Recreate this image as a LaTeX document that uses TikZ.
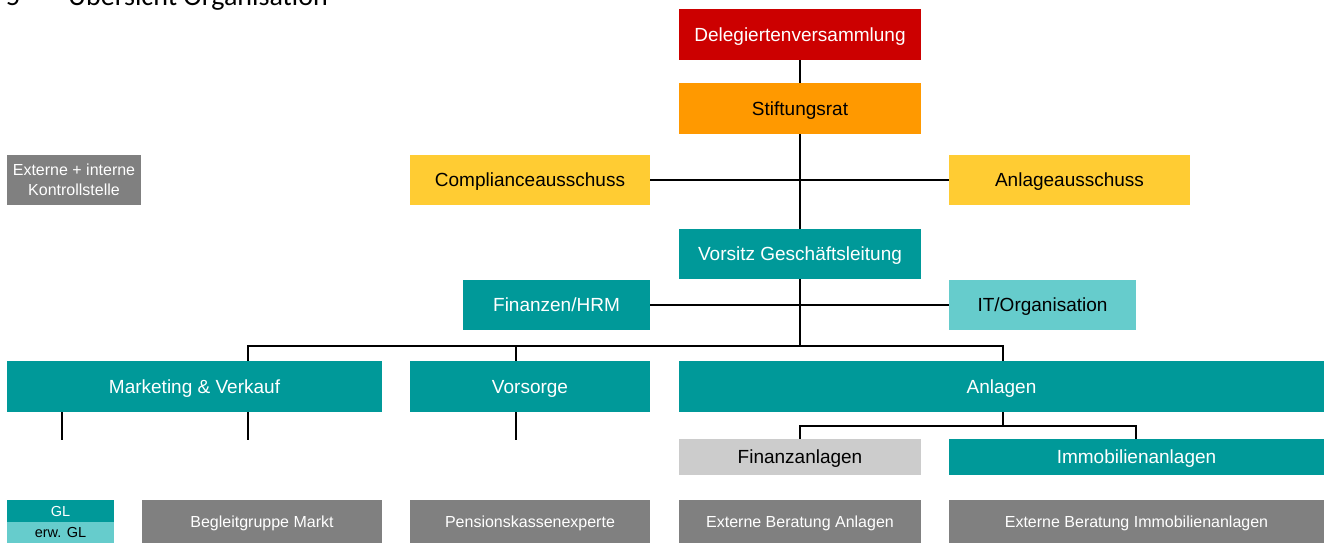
\documentclass[tikz,border=0pt]{standalone}
\usepackage{fontspec}
\setmainfont{Liberation Sans}
\newfontfamily\headfont{Carlito}
\definecolor{cred}{HTML}{CC0000}
\definecolor{corange}{HTML}{FF9900}
\definecolor{cyellow}{HTML}{FFCC33}
\definecolor{cteal}{HTML}{009999}
\definecolor{clteal}{HTML}{66CCCC}
\definecolor{cgray}{HTML}{808080}
\definecolor{clgray}{HTML}{CCCCCC}
\tikzset{
  orgbox/.style={inner sep=0pt, outer sep=0pt, align=center, text depth=0pt, font=\fontsize{19}{22}\selectfont},
  smallbox/.style={orgbox, font=\fontsize{16}{20}\selectfont},
  legbox/.style={orgbox, font=\fontsize{14.5}{16}\selectfont},
  conn/.style={line width=2pt, black},
}
\newcommand{\bx}[6]{\node[#1, fill=#2, text=#3, minimum width=#4pt, minimum height=#5pt] #6}
\begin{document}
\begin{tikzpicture}[x=1pt, y=-1pt]
\useasboundingbox (0,0) rectangle (1326,543);
\fill[white] (0,0) rectangle (1326,543);
% partially visible heading
\node[anchor=base west, inner sep=0pt, font=\headfont\fontsize{28}{32}\selectfont] (h5) at (6,6) {5};
\node[anchor=base west, inner sep=0pt, font=\headfont\fontsize{28}{32}\selectfont] (hd) at (68,6) {Übersicht Organisation};
% boxes
\bx{orgbox}{cred}{white}{242}{51}{(dv) at (800,34.5) {Delegiertenversammlung};}
\bx{orgbox}{corange}{black}{242}{51}{(sr) at (800,108.5) {Stiftungsrat};}
\bx{orgbox}{cyellow}{black}{240}{50}{(ca) at (530,180) {Complianceausschuss};}
\bx{orgbox}{cyellow}{black}{241}{50}{(aa) at (1069.5,180) {Anlageausschuss};}
\bx{smallbox}{cgray}{white}{134}{50}{(ks) at (74,180) {Externe + interne\\Kontrollstelle};}
\bx{orgbox}{cteal}{white}{242}{50}{(vg) at (800,254) {Vorsitz Geschäftsleitung};}
\bx{orgbox}{cteal}{white}{187}{50}{(fh) at (556.5,305) {Finanzen/HRM};}
\bx{orgbox}{clteal}{black}{187}{50}{(it) at (1042.5,305) {IT/Organisation};}
\bx{orgbox}{cteal}{white}{375}{51}{(mv) at (194.5,386.5) {Marketing \& Verkauf};}
\bx{orgbox}{cteal}{white}{240}{51}{(vs) at (530,386.5) {Vorsorge};}
\bx{orgbox}{cteal}{white}{645}{51}{(an) at (1001.5,386.5) {Anlagen};}
\bx{orgbox}{clgray}{black}{242}{36}{(fa) at (800,457) {Finanzanlagen};}
\bx{orgbox}{cteal}{white}{375}{36}{(im) at (1136.5,457) {Immobilienanlagen};}
\bx{legbox}{cteal}{white}{107}{22}{(gl) at (60.5,511) {GL};}
\bx{legbox}{clteal}{black}{107}{21}{(egl) at (60.5,532.5) {erw. GL};}
\bx{smallbox}{cgray}{white}{240}{43}{(bm) at (262,521.5) {Begleitgruppe Markt};}
\bx{smallbox}{cgray}{white}{240}{43}{(pk) at (530,521.5) {Pensionskassenexperte};}
\bx{smallbox}{cgray}{white}{242}{43}{(eba) at (800,521.5) {Externe Beratung Anlagen};}
\bx{smallbox}{cgray}{white}{375}{43}{(ebi) at (1136.5,521.5) {Externe Beratung Immobilienanlagen};}
% coordinates
\coordinate (bus) at (800,346);
\coordinate (b1) at (248,346);
\coordinate (b2) at (516,346);
\coordinate (b3) at (1003,346);
\coordinate (m1) at (62,440);
\coordinate (m2) at (248,440);
\coordinate (v1) at (516,440);
\coordinate (a1) at (1003,426);
\coordinate (a2) at (800,426);
\coordinate (a3) at (1136,426);
% connectors
\draw[conn] (dv.south) -- (sr.north);
\draw[conn] (sr.south) -- (vg.north);
\draw[conn] (ca.east) -- (aa.west);
\draw[conn] (vg.south) -- (bus);
\draw[conn] (fh.east) -- (it.west);
\draw[conn, line cap=rect] (b1) -- (b3);
\draw[conn] (b1) -- (b1 |- mv.north);
\draw[conn] (b2) -- (b2 |- vs.north);
\draw[conn] (b3) -- (b3 |- an.north);
\draw[conn] (m1 |- mv.south) -- (m1);
\draw[conn] (m2 |- mv.south) -- (m2);
\draw[conn] (v1 |- vs.south) -- (v1);
\draw[conn] (a1 |- an.south) -- (a1);
\draw[conn, line cap=rect] (a2) -- (a3);
\draw[conn] (a2) -- (fa.north);
\draw[conn] (a3) -- (a3 |- im.north);
\end{tikzpicture}
\end{document}
